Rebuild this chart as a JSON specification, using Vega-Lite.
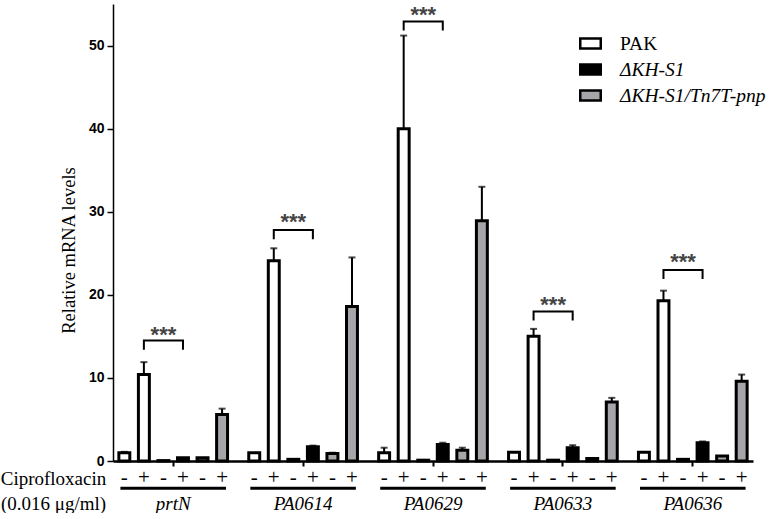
{
  "$schema": "https://vega.github.io/schema/vega-lite/v6.json",
  "width": 640,
  "height": 457,
  "padding": {"left": 0, "top": 3, "right": 0, "bottom": 0},
  "background": "white",
  "config": {"view": {"stroke": null}},
  "datasets": {
    "bars": [
      {"gene": "prtN", "sample": "PAK-", "strain": "PAK", "cipro": "-", "value": 1.0, "hi": 1.1},
      {"gene": "prtN", "sample": "PAK+", "strain": "PAK", "cipro": "+", "value": 10.4, "hi": 11.9},
      {"gene": "prtN", "sample": "KH-", "strain": "ΔKH-S1", "cipro": "-", "value": 0.05, "hi": null},
      {"gene": "prtN", "sample": "KH+", "strain": "ΔKH-S1", "cipro": "+", "value": 0.4, "hi": null},
      {"gene": "prtN", "sample": "pnp-", "strain": "ΔKH-S1/Tn7T-pnp", "cipro": "-", "value": 0.4, "hi": null},
      {"gene": "prtN", "sample": "pnp+", "strain": "ΔKH-S1/Tn7T-pnp", "cipro": "+", "value": 5.6, "hi": 6.3},
      {"gene": "PA0614", "sample": "PAK-", "strain": "PAK", "cipro": "-", "value": 1.0, "hi": null},
      {"gene": "PA0614", "sample": "PAK+", "strain": "PAK", "cipro": "+", "value": 24.1, "hi": 25.6},
      {"gene": "PA0614", "sample": "KH-", "strain": "ΔKH-S1", "cipro": "-", "value": 0.2, "hi": null},
      {"gene": "PA0614", "sample": "KH+", "strain": "ΔKH-S1", "cipro": "+", "value": 1.7, "hi": 1.85},
      {"gene": "PA0614", "sample": "pnp-", "strain": "ΔKH-S1/Tn7T-pnp", "cipro": "-", "value": 0.9, "hi": 1.0},
      {"gene": "PA0614", "sample": "pnp+", "strain": "ΔKH-S1/Tn7T-pnp", "cipro": "+", "value": 18.6, "hi": 24.5},
      {"gene": "PA0629", "sample": "PAK-", "strain": "PAK", "cipro": "-", "value": 1.0, "hi": 1.6},
      {"gene": "PA0629", "sample": "PAK+", "strain": "PAK", "cipro": "+", "value": 40.0, "hi": 51.2},
      {"gene": "PA0629", "sample": "KH-", "strain": "ΔKH-S1", "cipro": "-", "value": 0.1, "hi": null},
      {"gene": "PA0629", "sample": "KH+", "strain": "ΔKH-S1", "cipro": "+", "value": 2.0, "hi": 2.2},
      {"gene": "PA0629", "sample": "pnp-", "strain": "ΔKH-S1/Tn7T-pnp", "cipro": "-", "value": 1.3, "hi": 1.6},
      {"gene": "PA0629", "sample": "pnp+", "strain": "ΔKH-S1/Tn7T-pnp", "cipro": "+", "value": 28.9, "hi": 33.0},
      {"gene": "PA0633", "sample": "PAK-", "strain": "PAK", "cipro": "-", "value": 1.05, "hi": null},
      {"gene": "PA0633", "sample": "PAK+", "strain": "PAK", "cipro": "+", "value": 15.0, "hi": 15.9},
      {"gene": "PA0633", "sample": "KH-", "strain": "ΔKH-S1", "cipro": "-", "value": 0.1, "hi": null},
      {"gene": "PA0633", "sample": "KH+", "strain": "ΔKH-S1", "cipro": "+", "value": 1.6, "hi": 1.9},
      {"gene": "PA0633", "sample": "pnp-", "strain": "ΔKH-S1/Tn7T-pnp", "cipro": "-", "value": 0.3, "hi": null},
      {"gene": "PA0633", "sample": "pnp+", "strain": "ΔKH-S1/Tn7T-pnp", "cipro": "+", "value": 7.1, "hi": 7.6},
      {"gene": "PA0636", "sample": "PAK-", "strain": "PAK", "cipro": "-", "value": 1.05, "hi": null},
      {"gene": "PA0636", "sample": "PAK+", "strain": "PAK", "cipro": "+", "value": 19.3, "hi": 20.5},
      {"gene": "PA0636", "sample": "KH-", "strain": "ΔKH-S1", "cipro": "-", "value": 0.2, "hi": null},
      {"gene": "PA0636", "sample": "KH+", "strain": "ΔKH-S1", "cipro": "+", "value": 2.2, "hi": 2.35},
      {"gene": "PA0636", "sample": "pnp-", "strain": "ΔKH-S1/Tn7T-pnp", "cipro": "-", "value": 0.6, "hi": null},
      {"gene": "PA0636", "sample": "pnp+", "strain": "ΔKH-S1/Tn7T-pnp", "cipro": "+", "value": 9.6, "hi": 10.4}
    ],
    "genes": [
      {"gene": "prtN"}, {"gene": "PA0614"}, {"gene": "PA0629"}, {"gene": "PA0633"}, {"gene": "PA0636"}
    ],
    "brackets": [
      {"gene": "prtN", "sample": "PAK+", "o": 1, "y": 13.4},
      {"gene": "prtN", "sample": "PAK+", "o": 2, "y": 14.5},
      {"gene": "prtN", "sample": "KH+", "o": 3, "y": 14.5},
      {"gene": "prtN", "sample": "KH+", "o": 4, "y": 13.4},
      {"gene": "PA0614", "sample": "PAK+", "o": 1, "y": 26.7},
      {"gene": "PA0614", "sample": "PAK+", "o": 2, "y": 27.8},
      {"gene": "PA0614", "sample": "KH+", "o": 3, "y": 27.8},
      {"gene": "PA0614", "sample": "KH+", "o": 4, "y": 26.7},
      {"gene": "PA0629", "sample": "PAK+", "o": 1, "y": 51.8},
      {"gene": "PA0629", "sample": "PAK+", "o": 2, "y": 52.9},
      {"gene": "PA0629", "sample": "KH+", "o": 3, "y": 52.9},
      {"gene": "PA0629", "sample": "KH+", "o": 4, "y": 51.8},
      {"gene": "PA0633", "sample": "PAK+", "o": 1, "y": 16.9},
      {"gene": "PA0633", "sample": "PAK+", "o": 2, "y": 18.0},
      {"gene": "PA0633", "sample": "KH+", "o": 3, "y": 18.0},
      {"gene": "PA0633", "sample": "KH+", "o": 4, "y": 16.9},
      {"gene": "PA0636", "sample": "PAK+", "o": 1, "y": 21.9},
      {"gene": "PA0636", "sample": "PAK+", "o": 2, "y": 23.0},
      {"gene": "PA0636", "sample": "KH+", "o": 3, "y": 23.0},
      {"gene": "PA0636", "sample": "KH+", "o": 4, "y": 21.9}
    ],
    "stars": [
      {"gene": "prtN", "sample": "KH-", "y": 15.8, "label": "***"},
      {"gene": "PA0614", "sample": "KH-", "y": 29.4, "label": "***"},
      {"gene": "PA0629", "sample": "KH-", "y": 54.3, "label": "***"},
      {"gene": "PA0633", "sample": "KH-", "y": 19.4, "label": "***"},
      {"gene": "PA0636", "sample": "KH-", "y": 24.5, "label": "***"}
    ]
  },
  "encoding": {
    "x": {
      "field": "gene", "type": "nominal", "sort": ["prtN", "PA0614", "PA0629", "PA0633", "PA0636"],
      "scale": {"paddingInner": 0.097, "paddingOuter": 0.012},
      "axis": {
        "labelAngle": 0, "labelFont": "Times New Roman, Liberation Serif, serif", "labelFontStyle": "italic", "labelFontSize": 19,
        "labelColor": "black", "labelPadding": 28,
        "domainColor": "black", "domainWidth": 2.5, "tickColor": "black", "tickWidth": 2, "tickSize": 5,
        "title": ["Ciprofloxacin", "(0.016 μg/ml)"], "titleFont": "Times New Roman, Liberation Serif, serif", "titleFontSize": 19,
        "titleFontWeight": "normal", "titleColor": "black", "titleX": -60, "titleY": 17,
        "titleAlign": "center", "titleBaseline": "middle", "titleLineHeight": 25
      }
    }
  },
  "layer": [
    {
      "data": {"name": "bars"},
      "transform": [{"filter": "datum.hi != null"}],
      "mark": {"type": "rule", "color": "black", "strokeWidth": 2},
      "encoding": {
        "xOffset": {"field": "sample", "type": "nominal", "sort": ["PAK-", "PAK+", "KH-", "KH+", "pnp-", "pnp+"],
          "scale": {"paddingInner": 0.44, "paddingOuter": 0.22}},
        "y": {"field": "value", "type": "quantitative"},
        "y2": {"field": "hi"}
      }
    },
    {
      "data": {"name": "bars"},
      "transform": [{"filter": "datum.hi != null"}],
      "mark": {"type": "tick", "color": "black", "thickness": 2, "size": 7},
      "encoding": {
        "xOffset": {"field": "sample", "type": "nominal", "sort": ["PAK-", "PAK+", "KH-", "KH+", "pnp-", "pnp+"]},
        "y": {"field": "hi", "type": "quantitative"}
      }
    },
    {
      "data": {"name": "bars"},
      "mark": {"type": "bar", "stroke": "black", "strokeWidth": 3},
      "encoding": {
        "xOffset": {"field": "sample", "type": "nominal", "sort": ["PAK-", "PAK+", "KH-", "KH+", "pnp-", "pnp+"]},
        "y": {"field": "value", "type": "quantitative", "scale": {"domain": [0, 55], "nice": false},
          "axis": {
            "values": [0, 10, 20, 30, 40, 50], "grid": false,
            "labelFont": "Liberation Sans, Arial, sans-serif", "labelFontWeight": "bold", "labelFontSize": 14, "labelColor": "black",
            "labelPadding": 3, "tickSize": 6, "tickWidth": 1.5, "tickColor": "black",
            "domainColor": "black", "domainWidth": 1.5,
            "title": "Relative  mRNA levels", "titleFont": "Times New Roman, Liberation Serif, serif", "titleFontSize": 18.5,
            "titleFontWeight": "normal", "titleColor": "black", "titlePadding": 10, "titleY": 246
          }},
        "fill": {"field": "strain", "type": "nominal",
          "scale": {"domain": ["PAK", "ΔKH-S1", "ΔKH-S1/Tn7T-pnp"], "range": ["#ffffff", "#000000", "#a6a6aa"]},
          "legend": {
            "title": null, "orient": "none", "legendX": 466, "legendY": 28, "padding": 0,
            "symbolType": "M-1,-0.5H1V0.5H-1Z", "symbolSize": 420, "symbolStrokeColor": "black",
            "symbolStrokeWidth": 2.5, "symbolOpacity": 1,
            "labelFont": "Times New Roman, Liberation Serif, serif", "labelFontSize": 19.5, "labelColor": "black", "labelOffset": 18,
            "rowPadding": 4, "labelLimit": 300,
            "encode": {"labels": {"update": {"fontStyle": {"signal": "datum.value === 'PAK' ? 'normal' : 'italic'"}}}}
          }}
      }
    },
    {
      "data": {"name": "bars"},
      "mark": {"type": "text", "font": "Times New Roman, Liberation Serif, serif", "fontSize": 21, "color": "black", "baseline": "middle"},
      "encoding": {
        "xOffset": {"field": "sample", "type": "nominal", "sort": ["PAK-", "PAK+", "KH-", "KH+", "pnp-", "pnp+"]},
        "y": {"datum": -2.1},
        "text": {"field": "cipro"}
      }
    },
    {
      "data": {"name": "genes"},
      "mark": {"type": "bar", "color": "black", "width": {"band": 0.9}},
      "encoding": {
        "y": {"datum": -3.1},
        "y2": {"datum": -3.45}
      }
    },
    {
      "data": {"name": "brackets"},
      "mark": {"type": "line", "color": "black", "strokeWidth": 2},
      "encoding": {
        "xOffset": {"field": "sample", "type": "nominal", "sort": ["PAK-", "PAK+", "KH-", "KH+", "pnp-", "pnp+"]},
        "y": {"field": "y", "type": "quantitative"},
        "order": {"field": "o"},
        "detail": {"field": "gene"}
      }
    },
    {
      "data": {"name": "stars"},
      "mark": {"type": "text", "font": "Liberation Sans, Arial, sans-serif", "fontWeight": "bold", "fontSize": 22, "color": "#444444",
        "baseline": "alphabetic", "dy": 12},
      "encoding": {
        "xOffset": {"field": "sample", "type": "nominal", "sort": ["PAK-", "PAK+", "KH-", "KH+", "pnp-", "pnp+"]},
        "y": {"field": "y", "type": "quantitative"},
        "text": {"field": "label"}
      }
    }
  ]
}
